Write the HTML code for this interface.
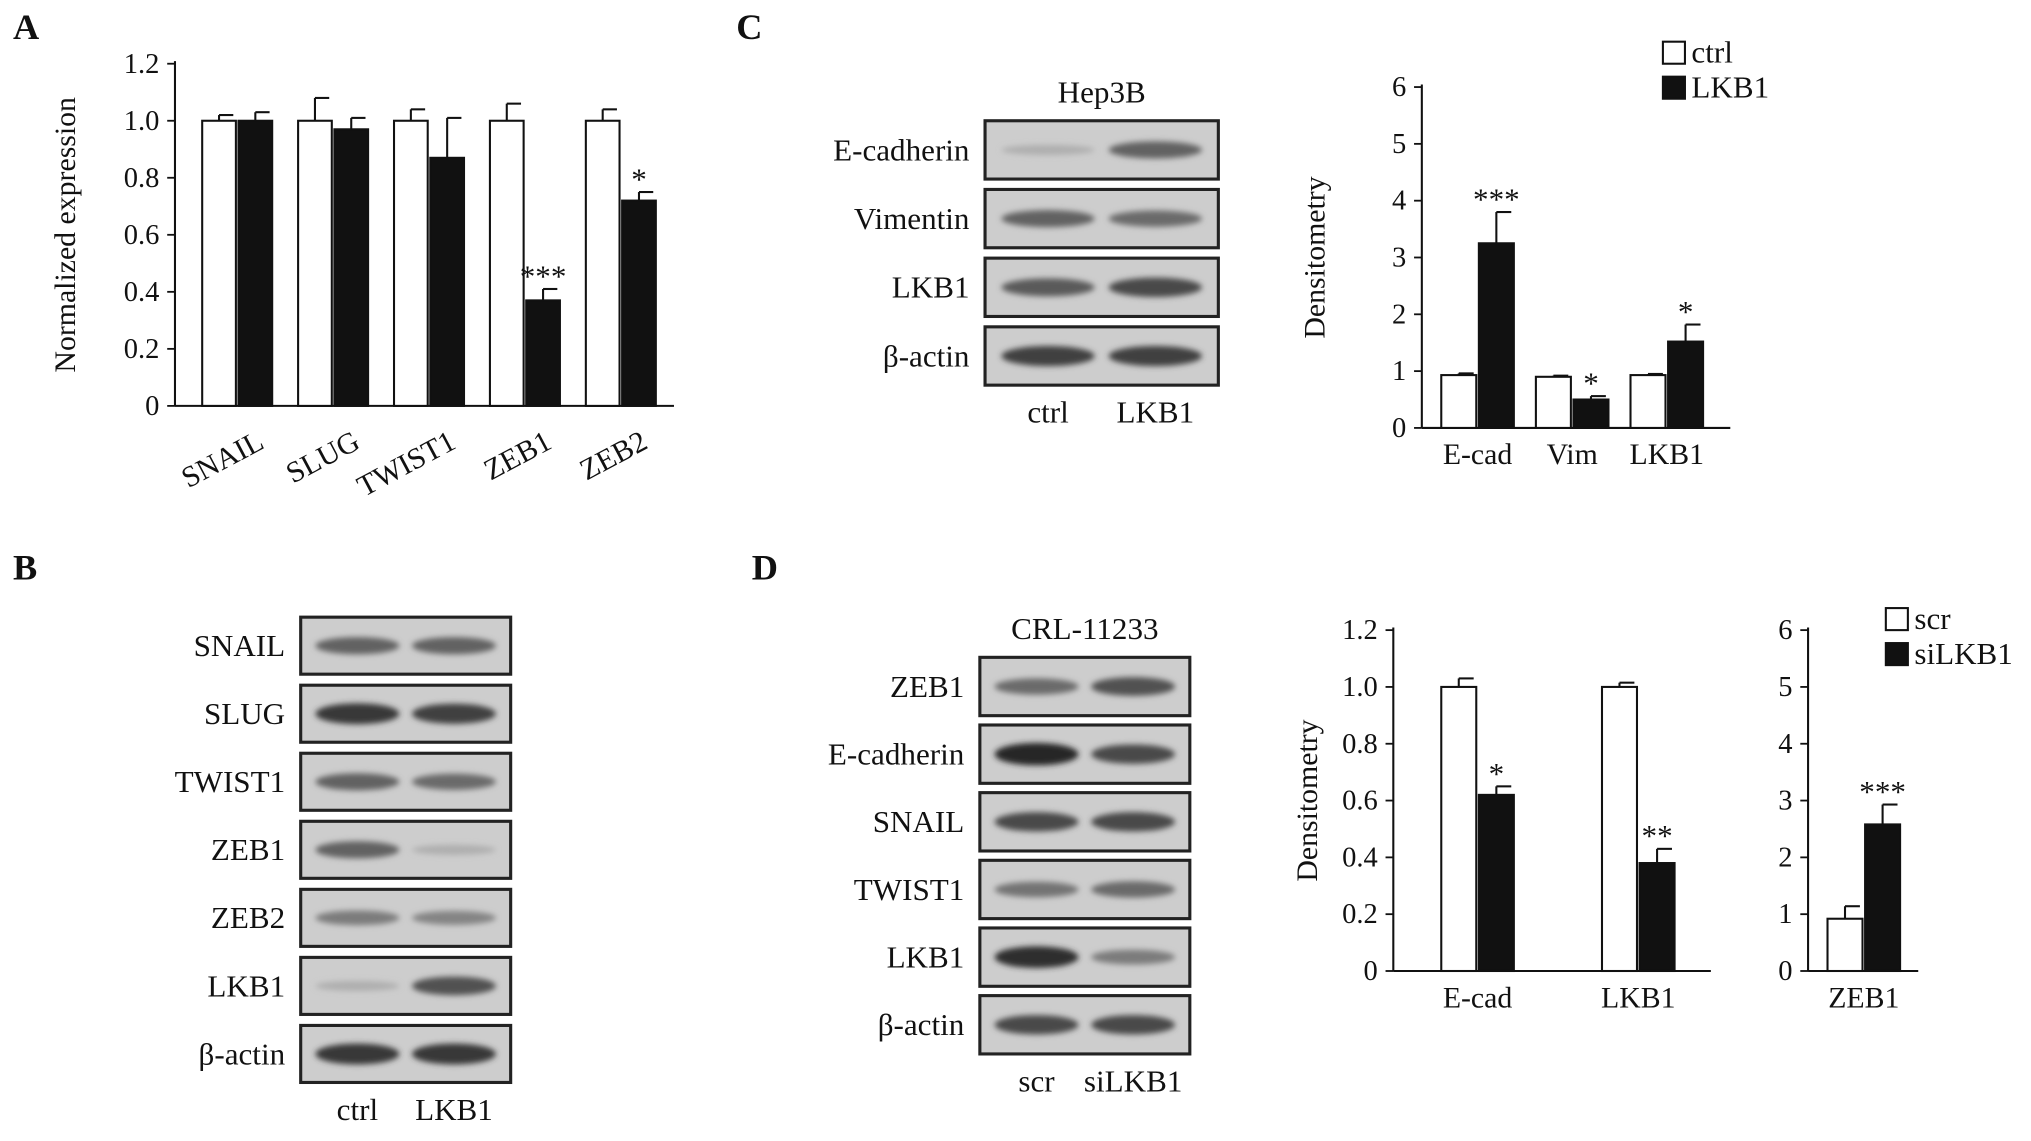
<!DOCTYPE html>
<html><head><meta charset="utf-8">
<style>
html,body{margin:0;padding:0;background:#fff;}
svg{display:block;font-family:"Liberation Serif",serif;}
</style></head>
<body>
<svg id="fig" width="2031" height="1141" viewBox="0 0 1567 880" xmlns="http://www.w3.org/2000/svg">
<defs><filter id="blur" x="-20%" y="-100%" width="140%" height="300%"><feGaussianBlur stdDeviation="2.2"/></filter></defs>
</svg>
<script>
// ---- Panel A data ----
const aCats=["SNAIL","SLUG","TWIST1","ZEB1","ZEB2"];
const aCtrl=[1.0,1.0,1.0,1.0,1.0];
const aCtrlErr=[0.02,0.08,0.04,0.06,0.04];
const aLkb=[1.0,0.97,0.87,0.37,0.72];
const aLkbErr=[0.03,0.04,0.14,0.04,0.03];
const aSig=["","","","***","*"];
const aTicks=[0,0.2,0.4,0.6,0.8,1.0,1.2];
// ---- Panel C chart data ----
const cCats=["E-cad","Vim","LKB1"];
const cCtrl=[0.93,0.9,0.93];
const cCtrlErr=[0.03,0.02,0.02];
const cLkb=[3.25,0.5,1.52];
const cLkbErr=[0.55,0.06,0.3];
const cSig=["***","*","*"];
const cTicks=[0,1,2,3,4,5,6];
// ---- Panel D charts data ----
const dCats=["E-cad","LKB1"];
const dScr=[1.0,1.0];
const dScrErr=[0.03,0.015];
const dSi=[0.62,0.38];
const dSiErr=[0.03,0.05];
const dSig=["*","**"];
const dTicks=[0,0.2,0.4,0.6,0.8,1.0,1.2];
const d2Cats=["ZEB1"];
const d2Scr=[0.92];
const d2ScrErr=[0.22];
const d2Si=[2.58];
const d2SiErr=[0.35];
const d2Sig=["***"];
const d2Ticks=[0,1,2,3,4,5,6];
// ---- Blot data (band intensity 0..1 per lane) ----
const bRows=["SNAIL","SLUG","TWIST1","ZEB1","ZEB2","LKB1","β-actin"];
const bInt=[[0.6,0.6],[0.85,0.8],[0.6,0.55],[0.6,0.15],[0.45,0.4],[0.15,0.7],[0.85,0.85]];
const cRows=["E-cadherin","Vimentin","LKB1","β-actin"];
const cInt=[[0.15,0.6],[0.6,0.55],[0.65,0.75],[0.8,0.8]];
const dRows=["ZEB1","E-cadherin","SNAIL","TWIST1","LKB1","β-actin"];
const dInt=[[0.55,0.7],[0.95,0.75],[0.75,0.75],[0.5,0.55],[0.9,0.45],[0.75,0.75]];

const svg=document.getElementById('fig');
const NS="http://www.w3.org/2000/svg";
function mk(tag,attrs,parent){const e=document.createElementNS(NS,tag);for(const k in attrs)e.setAttribute(k,attrs[k]);(parent||svg).appendChild(e);return e;}
function txt(s,x,y,size,anchor,parent,extra){const t=mk('text',Object.assign({x:x,y:y,'font-size':size,'text-anchor':anchor||'middle',fill:'#111'},extra||{}),parent);t.textContent=s;return t;}

function barChart(o){
  const g=mk('g',{});
  
  
  const yScale=v=>o.y0-(v-o.min)/(o.max-o.min)*(o.y0-o.y1);
  mk('line',{x1:o.x0,y1:o.y1-2,x2:o.x0,y2:o.y0,stroke:'#111','stroke-width':1.6},g);
  mk('line',{x1:o.x0,y1:o.y0,x2:o.xEnd,y2:o.y0,stroke:'#111','stroke-width':1.6},g);
  o.ticks.forEach(t=>{const y=yScale(t);
    const tl=mk('line',{x1:o.x0-6,y1:y,x2:o.x0,y2:y,stroke:'#111','stroke-width':1.4},g);
    
    
    const lb=txt(o.fmt(t),o.x0-12,y+7,22,'end',g);
    
    
  });
  const ttl=txt(o.title,0,0,23,'middle',g,{transform:`translate(${o.titleX},${(o.y0+o.y1)/2}) rotate(-90)`});
  
  
  o.cats.forEach((c,i)=>{
    const gx=o.first+i*o.step;
    [[o.s1,o.e1,'#fff',0],[o.s2,o.e2,'#111',1]].forEach(([vals,errs,fill,k])=>{
      const x=gx+k*(o.bw+2), v=vals[i], y=yScale(v), ye=yScale(v+errs[i]), cx=x+o.bw/2;
      mk('line',{x1:cx,y1:y,x2:cx,y2:ye,stroke:'#111','stroke-width':1.6},g);
      mk('line',{x1:cx,y1:ye,x2:cx+o.bw/2-2,y2:ye,stroke:'#111','stroke-width':1.6},g);
      const r=mk('rect',{x:x,y:y,width:o.bw,height:o.y0-y,fill:fill,stroke:'#111','stroke-width':1.6},g);
      
      
      if(k&&o.sig[i]){const s=txt(o.sig[i],cx,ye-2,24,'middle',g);}
    });
    const lx=gx+o.bw+1;
    let lab;
    if(o.rot) lab=txt(c,0,0,23,'end',g,{transform:`translate(${lx+22},${o.y0+32}) rotate(-28)`});
    else lab=txt(c,lx,o.y0+28,23,'middle',g);
    
    
  });
}
const f1=t=>t===0?'0':t.toFixed(1), f0=t=>String(t);
barChart({name:'chart-a',x0:135,xEnd:520,y0:313,y1:49,min:0,max:1.2,ticks:aTicks,fmt:f1,cats:aCats,s1:aCtrl,e1:aCtrlErr,s2:aLkb,e2:aLkbErr,sig:aSig,first:156,step:74,bw:26,title:'Normalized expression',titleX:58,rot:true});
barChart({name:'chart-c',x0:1097,xEnd:1335,y0:330,y1:67,min:0,max:6,ticks:cTicks,fmt:f0,cats:cCats,s1:cCtrl,e1:cCtrlErr,s2:cLkb,e2:cLkbErr,sig:cSig,first:1112,step:73,bw:27,title:'Densitometry',titleX:1022,rot:false});
barChart({name:'chart-d-left',x0:1075,xEnd:1320,y0:749,y1:486,min:0,max:1.2,ticks:dTicks,fmt:f1,cats:dCats,s1:dScr,e1:dScrErr,s2:dSi,e2:dSiErr,sig:dSig,first:1112,step:124,bw:27,title:'Densitometry',titleX:1016,rot:false});
barChart({name:'chart-d-right',x0:1395,xEnd:1480,y0:749,y1:486,min:0,max:6,ticks:d2Ticks,fmt:f0,cats:d2Cats,s1:d2Scr,e1:d2ScrErr,s2:d2Si,e2:d2SiErr,sig:d2Sig,first:1410,step:80,bw:27,title:'',titleX:1340,rot:false});

function legend(x,y,a,b,name){
  const g=mk('g',{});
  
  
  mk('rect',{x:x,y:y,width:17,height:17,fill:'#fff',stroke:'#111','stroke-width':1.6},g);
  txt(a,x+22,y+16,24,'start',g);
  mk('rect',{x:x,y:y+27,width:17,height:17,fill:'#111',stroke:'#111','stroke-width':1.6},g);
  txt(b,x+22,y+43,24,'start',g);
}
legend(1283,32,'ctrl','LKB1','legend-c');
legend(1455,469,'scr','siLKB1','legend-d');

function blot(o){
  const g=mk('g',{});
  
  
  o.rows.forEach((r,i)=>{
    const y=o.y+i*o.pitch;
    const box=mk('rect',{x:o.x,y:y,width:o.w,height:o.h,fill:'#cdcdcd',stroke:'#222','stroke-width':2.4},g);
    
    
    o.ints[i].forEach((v,k)=>{
      const cx=o.x+o.w*(k?0.73:0.27), shade=Math.round(200-170*v);
      mk('ellipse',{cx:cx,cy:y+o.h/2,rx:o.w*0.2,ry:3+6*v,fill:`rgb(${shade},${shade},${shade})`,filter:'url(#blur)'},g);
    });
    const l=txt(r,o.x-12,y+o.h/2+8,24,'end',g);
    
    
  });
  const last=o.y+(o.rows.length-1)*o.pitch+o.h;
  txt(o.lanes[0],o.x+o.w*0.27,last+29,24,'middle',g);
  txt(o.lanes[1],o.x+o.w*0.73,last+29,24,'middle',g);
  if(o.header) txt(o.header,o.x+o.w/2,o.y-14,24,'middle',g);
}
blot({name:'blot-b',rows:bRows,ints:bInt,x:232,y:476,w:162,h:44,pitch:52.5,lanes:['ctrl','LKB1']});
blot({name:'blot-c',rows:cRows,ints:cInt,x:760,y:93,w:180,h:45,pitch:53,lanes:['ctrl','LKB1'],header:'Hep3B'});
blot({name:'blot-d',rows:dRows,ints:dInt,x:756,y:507,w:162,h:45,pitch:52.2,lanes:['scr','siLKB1'],header:'CRL-11233'});

[['A',10,30],['C',568,30],['B',10,447],['D',580,447]].forEach(([s,x,y])=>{
  const t=txt(s,x,y,28,'start',svg,{'font-weight':'bold'});
  
  
});
</script>
</body></html>
